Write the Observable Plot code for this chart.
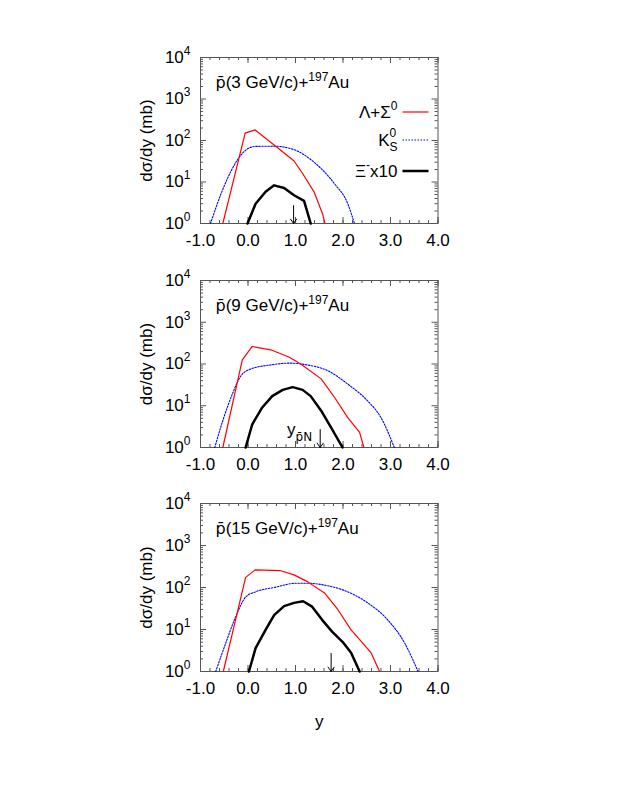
<!DOCTYPE html>
<html><head><meta charset="utf-8">
<script src="https://cdn.jsdelivr.net/npm/d3@7"></script>
<script src="https://cdn.jsdelivr.net/npm/@observablehq/plot@0.6"></script>
<style>
body{margin:0;background:#fff;overflow:hidden;}
#wrap{position:relative;width:640px;height:812px;background:#fff;}
#wrap svg{position:absolute;left:0;}
</style></head><body><div id="wrap"></div>
<script>
// ---- data ----
const momenta = [3, 9, 15];           // p̄ beam momentum, GeV/c
const yPN = [0.96, 1.52, 1.75];       // p̄N rapidity arrows
const xTickValues = [-1, 0, 1, 2, 3, 4];
const yTickValues = [1, 10, 100, 1000, 10000];

// Λ+Σ0
const lam3X = [-0.53, -0.06, 0.15, 0.55, 0.97, 1.15, 1.39, 1.57, 1.62];
const lam3Y = [1, 150, 180, 78, 32, 16, 5.8, 1.7, 1];
const lam9X = [-0.53, -0.12, 0.09, 0.48, 0.87, 1.11, 1.54, 1.82, 2.1, 2.35, 2.44];
const lam9Y = [1, 126, 263, 219, 145, 100, 44, 16, 5.2, 2.3, 1];
const lam15X = [-0.52, -0.05, 0.15, 0.69, 0.97, 1.25, 1.61, 1.89, 2.17, 2.59, 2.77];
const lam15Y = [1, 174, 263, 251, 200, 138, 74, 30, 9.8, 2.8, 1];
// K0S
const k3X = [-0.79, -0.51, -0.23, -0.01, 0.16, 0.55, 0.97, 1.39, 1.82, 2.1, 2.24];
const k3Y = [1, 7.6, 33, 63, 72, 73, 60, 30, 9.1, 3.0, 1];
const k9X = [-0.70, -0.51, -0.33, -0.15, 0.06, 0.48, 0.87, 1.25, 1.68, 2.1, 2.52, 2.8, 3.08];
const k9Y = [1, 5.2, 19, 52, 76, 95, 105, 95, 69, 33, 13, 5.2, 1];
const k15X = [-0.68, -0.47, -0.26, -0.05, 0.16, 0.55, 1.01, 1.25, 1.68, 2.1, 2.52, 2.94, 3.3, 3.58];
const k15Y = [1, 4.7, 20, 59, 79, 100, 126, 126, 110, 79, 43, 17, 4.7, 1];
// Ξ- x10
const xi3X = [-0.01, 0.16, 0.37, 0.55, 0.76, 0.97, 1.18, 1.32];
const xi3Y = [1, 3.0, 5.8, 8.3, 7.2, 4.8, 3.5, 1];
const xi9X = [-0.05, 0.09, 0.30, 0.51, 0.73, 0.94, 1.15, 1.32, 1.54, 1.75, 1.99];
const xi9Y = [1, 3.6, 9.1, 17, 24, 28, 24, 17, 7.6, 3.0, 1];
const xi15X = [0.02, 0.16, 0.37, 0.55, 0.76, 0.97, 1.16, 1.35, 1.56, 1.77, 1.99, 2.17, 2.35];
const xi15Y = [1, 3.6, 9.8, 22, 36, 43, 47, 35, 17, 8.9, 5.1, 2.8, 1];

// ---- layout / style ----
const FONT = '"Liberation Sans", Arial, Helvetica, sans-serif';
const FRAME = "#555";
const RED = "#ff0000", BLUE = "#0000ff", BLACK = "#000";
const W = 640, ML = 200, MR = 202.5, MT = 20;
const panels = [
  {top: 37, h: 166, lam: [lam3X, lam3Y], k: [k3X, k3Y], xi: [xi3X, xi3Y], legend: true, arrowLabel: false, xTitle: false},
  {top: 260, h: 167, lam: [lam9X, lam9Y], k: [k9X, k9Y], xi: [xi9X, xi9Y], legend: false, arrowLabel: true, xTitle: false},
  {top: 483, h: 168, lam: [lam15X, lam15Y], k: [k15X, k15Y], xi: [xi15X, xi15Y], legend: false, arrowLabel: false, xTitle: true}
];
const legendRows = [
  {key: "lam", color: RED, width: 1.2, dash: null, dy: 55},
  {key: "k", color: BLUE, width: 1.1, dash: "1.5,1.5", dy: 83},
  {key: "xi", color: BLACK, width: 2.5, dash: null, dy: 114}
];

const rows = (xs, ys) => xs.map((x, i) => ({x, y: ys[i]}));
const xMinor = d3.range(-1, 4.0001, 0.2);
const yMinor = [1, 10, 100, 1000].flatMap(d => [2,3,4,5,6,7,8,9].map(k => k * d));
const TITLE_MARK = "\u2063title";
const ARROW_MARK = "\u2063ypn";

const wrap = document.getElementById("wrap");

panels.forEach((p, idx) => {
  const MB = p.xTitle ? 80 : 50;
  const H = p.h;
  const PW = W - ML - MR;
  const marks = [
    Plot.tickX(xMinor, {x: d => d, stroke: FRAME, insetTop: H - 3}),
    Plot.tickX(xMinor, {x: d => d, stroke: FRAME, insetBottom: H - 3}),
    Plot.tickX(xTickValues, {x: d => d, stroke: FRAME, insetTop: H - 6}),
    Plot.tickX(xTickValues, {x: d => d, stroke: FRAME, insetBottom: H - 6}),
    Plot.tickY(yMinor, {y: d => d, stroke: FRAME, insetRight: PW - 3}),
    Plot.tickY(yMinor, {y: d => d, stroke: FRAME, insetLeft: PW - 3}),
    Plot.tickY(yTickValues, {y: d => d, stroke: FRAME, insetRight: PW - 6}),
    Plot.tickY(yTickValues, {y: d => d, stroke: FRAME, insetLeft: PW - 6}),
    Plot.frame({stroke: FRAME, strokeWidth: 1}),
    Plot.axisX(xTickValues, {tickSize: 0, tickPadding: 10, tickFormat: d => d.toFixed(1), label: null, fontSize: 17}),
    Plot.axisY(yTickValues, {tickSize: 0, tickPadding: 10, tickFormat: d => String(Math.round(Math.log10(d))), label: null, fontSize: 17}),
    Plot.line(rows(...p.k), {x: "x", y: "y", stroke: BLUE, strokeWidth: 1.1, strokeDasharray: "1.5,1.5", curve: "monotone-x"}),
    Plot.line(rows(...p.lam), {x: "x", y: "y", stroke: RED, strokeWidth: 1.2}),
    Plot.line(rows(...p.xi), {x: "x", y: "y", stroke: BLACK, strokeWidth: 2.5, strokeLinejoin: "round"}),
    Plot.arrow([yPN[idx]], {x1: d => d, x2: d => d, y1: () => 10 ** 0.43, y2: () => 1, stroke: BLACK, strokeWidth: 1, headLength: 8, headAngle: 70}),
    Plot.text([TITLE_MARK + momenta[idx]], {frameAnchor: "top-left", dx: 15, dy: 25, textAnchor: "start", lineAnchor: "middle", fontSize: 17}),
    Plot.text(["d\u03c3/dy (mb)"], {frameAnchor: "left", dx: -54, rotate: -90, textAnchor: "middle", lineAnchor: "middle", fontSize: 17})
  ];
  if (p.arrowLabel) {
    marks.push(Plot.text([yPN[idx]], {x: d => d, frameAnchor: "bottom", dx: -8, dy: -18, text: () => ARROW_MARK, textAnchor: "end", lineAnchor: "middle", fontSize: 17}));
  }
  if (p.xTitle) {
    marks.push(Plot.text(["y"], {frameAnchor: "bottom", dy: 50, lineAnchor: "middle", fontSize: 17}));
  }
  const chart = Plot.plot({
    width: W, height: MT + H + MB,
    marginLeft: ML, marginRight: MR, marginTop: MT, marginBottom: MB,
    style: {fontFamily: FONT, fontSize: "17px", color: "#000", background: "transparent", overflow: "visible"},
    x: {domain: [-1, 4], axis: null},
    y: {type: "log", domain: [1, 1e4], axis: null},
    marks
  });
  chart.style.top = p.top + "px";
  const svg = d3.select(chart);

  svg.selectAll('g[aria-label="y-axis tick label"] text').each(function() {
    const e = this.textContent;
    const t = d3.select(this);
    t.text(null);
    t.append("tspan").text("10");
    t.append("tspan").attr("dy", "-8").attr("font-size", "12").text(e);
  });

  svg.selectAll("text").each(function() {
    const s = this.textContent;
    const t = d3.select(this);
    if (s.startsWith(TITLE_MARK)) {
      const m = s.slice(TITLE_MARK.length);
      t.text(null);
      t.append("tspan").attr("font-family", '"DejaVu Sans", sans-serif').attr("font-size", 16).text("p\u0304");
      t.append("tspan").text(`(${m} GeV/c)+`);
      t.append("tspan").attr("dy", "-7").attr("font-size", "12").text("197");
      t.append("tspan").attr("dy", "7").text("Au");
    } else if (s === ARROW_MARK) {
      t.text(null);
      t.append("tspan").text("y");
      t.append("tspan").attr("dy", "6").attr("font-size", "12").attr("font-family", '"DejaVu Sans", sans-serif').text("p\u0304N");
    }
  });

  if (p.legend) {
    const right = W - MR;
    const g = svg.append("g").attr("aria-label", "legend").attr("font-family", FONT);
    legendRows.forEach(r => {
      const y = MT + r.dy;
      g.append("line").attr("x1", right - 35).attr("x2", right - 9).attr("y1", y).attr("y2", y)
        .attr("stroke", r.color).attr("stroke-width", r.width).attr("stroke-dasharray", r.dash);
      const t = g.append("text").attr("x", right - 40).attr("y", y + 6).attr("text-anchor", "end").attr("font-size", 17).attr("fill", "#000");
      if (r.key === "lam") {
        t.append("tspan").text("\u039b+\u03a3");
        t.append("tspan").attr("dy", "-8").attr("font-size", 12).text("0");
      } else if (r.key === "k") {
        t.append("tspan").text("K");
        t.append("tspan").attr("dy", "-9").attr("font-size", 12).text("0");
        t.append("tspan").attr("dx", "-6.7").attr("dy", "14").attr("font-size", 12).text("S");
      } else {
        t.append("tspan").text("\u039e");
        t.append("tspan").attr("dy", "-8").attr("font-size", 12).text("-");
        t.append("tspan").attr("dy", "8").text("x10");
      }
    });
  }
  wrap.appendChild(chart);
});
</script>
</body></html>
